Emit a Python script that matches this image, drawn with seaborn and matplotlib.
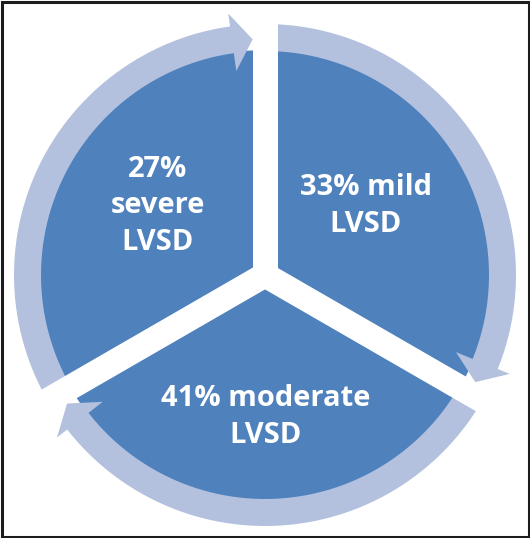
import numpy as np
import matplotlib
matplotlib.use("Agg")
import matplotlib.pyplot as plt
import seaborn as sns
from matplotlib.patches import Polygon, Rectangle

# LVSD severity split (labels as printed in the diagram)
labels = ["mild", "moderate", "severe"]
pct = [33, 41, 27]
# the cycle diagram draws three equal segments
segment_share = [1, 1, 1]
text_lines = ["33% mild\nLVSD", "41% moderate\nLVSD", "27%\nsevere\nLVSD"]

blue = "#4F81BD"
ring = "#B3C1DE"

sns.set_theme(style="white")
plt.rcParams["font.family"] = ["Open Sans", "DejaVu Sans"]

W, H = 530, 538
fig = plt.figure(figsize=(W / 100, H / 100), dpi=100)
ax = fig.add_axes([0, 0, 1, 1])

cx, cy = 265, 263
r_pie = 225
r_in, r_out = 224, 251

ax.pie(segment_share, colors=[blue] * 3, startangle=90, counterclock=False,
       radius=r_pie, center=(cx, cy), wedgeprops=dict(linewidth=0))

# circular arrows around each segment (clockwise)
gaps = [90, -30, -150]
for g in gaps:
    g_end = g - 120
    base = g_end + 8
    tip = g_end + 3
    a_out = np.radians(np.linspace(g, base, 60))
    a_in = a_out[::-1]
    pts = [(cx + r_out * np.cos(a), cy + r_out * np.sin(a)) for a in a_out]
    b = np.radians(base)
    t = np.radians(tip)
    pts.append((cx + 264 * np.cos(b), cy + 264 * np.sin(b)))
    pts.append((cx + 236 * np.cos(t), cy + 236 * np.sin(t)))
    pts.append((cx + 206 * np.cos(b), cy + 206 * np.sin(b)))
    pts += [(cx + r_in * np.cos(a), cy + r_in * np.sin(a)) for a in a_in]
    ax.add_patch(Polygon(pts, closed=True, facecolor=ring, edgecolor="none", zorder=3))

# white separators between the segments
for g in gaps:
    a = np.radians(g)
    ax.plot([cx, cx + 280 * np.cos(a)], [cy, cy + 280 * np.sin(a)],
            color="white", lw=18, solid_capstyle="butt", zorder=4)

# labels (y = baseline of the last line)
pos = [(366, 306), (266, 95), (158, 288)]
for (x, y), s in zip(pos, text_lines):
    ax.text(x, y, s, ha="center", va="baseline", color="white", fontsize=21,
            fontweight="bold", linespacing=1.35, multialignment="center", zorder=5)

ax.add_patch(Rectangle((1.5, 1.5), W - 3, H - 3, fill=False, edgecolor="#1c1c1c",
                       lw=2.2, zorder=6, clip_on=False))

ax.set_xlim(0, W)
ax.set_ylim(0, H)
ax.set_aspect("equal")
ax.axis("off")
fig.savefig("out.png", dpi=100)
